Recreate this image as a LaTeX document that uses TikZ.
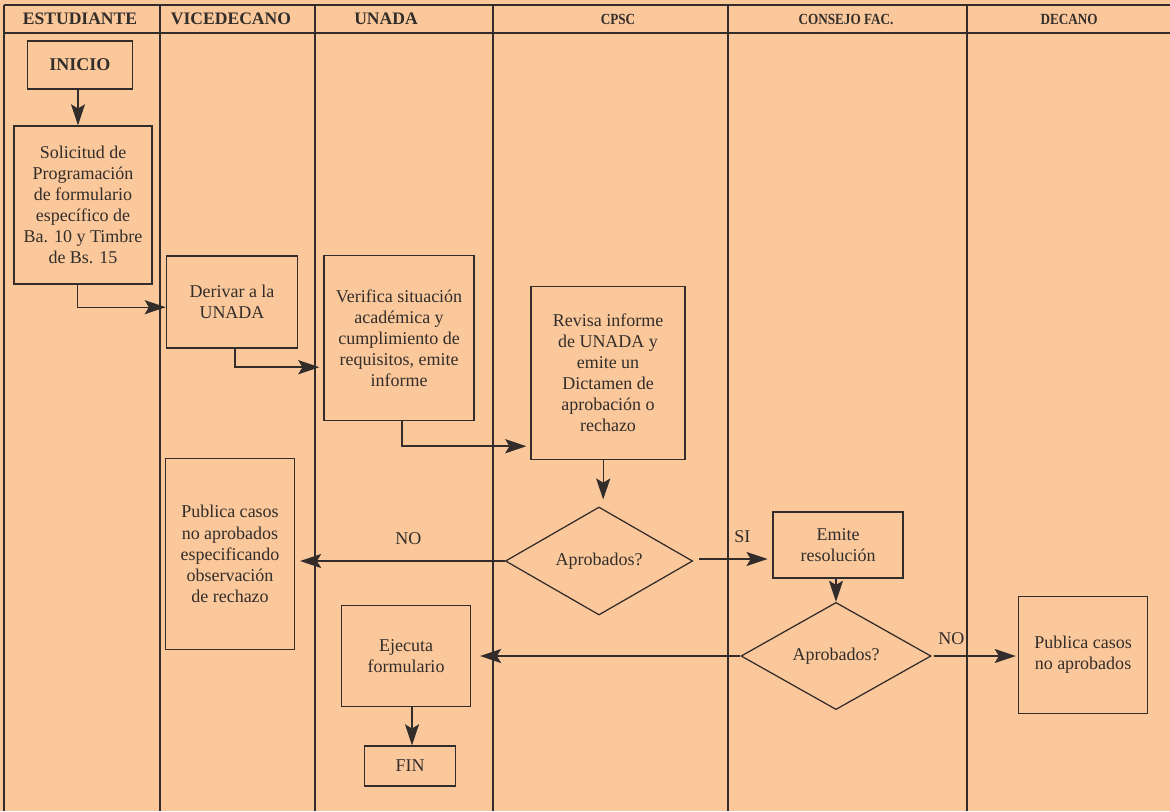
\documentclass[tikz,border=0pt]{standalone}
\usepackage{fontspec}
\setmainfont{Liberation Serif}
\usetikzlibrary{arrows.meta,shapes.geometric}

\definecolor{fondo}{RGB}{251,200,155}
\definecolor{linea}{RGB}{50,45,42}

\tikzset{
    caja/.style={draw=linea, line width=0.9pt, rectangle, align=center, inner sep=0pt, text=linea,
        font=\fontsize{12.8}{15}\selectfont},
    rombo/.style={caja, diamond, aspect=1.73},
    flecha/.style={draw=linea, line width=0.9pt, -{Stealth[length=15pt,width=10pt,inset=3pt]}},
    gruesa/.style={flecha, line width=1.8pt},
    titulo/.style={text=linea, font=\fontsize{12.5}{15}\selectfont\bfseries},
    titulob/.style={text=linea, font=\fontsize{11}{13}\selectfont\bfseries},
    etiqueta/.style={text=linea, font=\fontsize{12.8}{15}\selectfont}
}

\begin{document}
\begin{tikzpicture}[x=0.025cm,y=-0.025cm]
                % fondo y carriles
                \fill[fondo] (0,0) rectangle (1170,811);
                \useasboundingbox (0,0) rectangle (1170,811);
                \draw[linea, line width=0.9pt] (4,5) -- (1170,5);
                \draw[linea, line width=1.6pt] (4,33) -- (1170,33);
                \draw[linea, line width=2pt] (4,5) -- (4,811);
                \foreach \cx in {160,315,493,728,967}
                    \draw[linea, line width=0.9pt] (\cx,5) -- (\cx,811);

                % encabezados
                \node[titulo] (hEst) at (80,19) {ESTUDIANTE};
                \node[titulo] (hVic) at (231,19) {VICEDECANO};
                \node[titulo] (hUna) at (386,19) {UNADA};
                \node[titulob] (hCps) at (618,19) {\scalebox{0.85}[1]{CPSC}};
                \node[titulob] (hCon) at (846,19) {\scalebox{0.85}[1]{CONSEJO FAC.}};
                \node[titulob] (hDec) at (1069,19) {\scalebox{0.85}[1]{DECANO}};

                % cajas
                \node[caja, font=\fontsize{12.8}{15}\selectfont\bfseries, minimum width=2.63cm, minimum height=1.2cm] (inicio) at (80,65) {INICIO};
                \node[caja, minimum width=3.45cm, minimum height=3.95cm] (solicitud) at (83,205)
                    {Solicitud de\\Programación\\de formulario\\específico de\\Ba. 10 y Timbre\\de Bs. 15};
                \node[caja, minimum width=3.28cm, minimum height=2.3cm] (derivar) at (232,302) {Derivar a la\\UNADA};
                \node[caja, minimum width=3.75cm, minimum height=4.13cm] (verifica) at (399,338)
                    {Verifica situación\\académica y\\cumplimiento de\\requisitos, emite\\informe};
                \node[caja, minimum width=3.85cm, minimum height=4.33cm] (revisa) at (608,373)
                    {Revisa informe\\de UNADA y\\emite un\\Dictamen de\\aprobación o\\rechazo};
                \node[rombo, minimum width=4.68cm, minimum height=2.7cm] (aprob1) at (599,561) {Aprobados?};
                \node[caja, minimum width=3.25cm, minimum height=1.65cm] (emite) at (838,545) {Emite\\resolución};
                \node[rombo, minimum width=4.75cm, minimum height=2.68cm] (aprob2) at (836,656) {Aprobados?};
                \node[caja, minimum width=3.23cm, minimum height=2.93cm] (pubDec) at (1083,655) {Publica casos\\no aprobados};
                \node[caja, minimum width=3.23cm, minimum height=4.78cm] (pubVic) at (230,554)
                    {Publica casos\\no aprobados\\especificando\\observación\\de rechazo};
                \node[caja, minimum width=3.23cm, minimum height=2.53cm] (ejecuta) at (406,656) {Ejecuta\\formulario};
                \node[caja, minimum width=2.28cm, minimum height=1cm] (fin) at (410,766) {FIN};

                % conectores
                \draw[flecha] ([xshift=-0.05cm]inicio.south) -- ([xshift=-0.05cm]inicio.south |- solicitud.north);
                \draw[flecha] ([xshift=-0.13cm]solicitud.south) |- ([yshift=-0.13cm]derivar.west);
                \draw[gruesa] ([xshift=0.08cm]derivar.south) |- ([yshift=-0.73cm,xshift=-0.1cm]verifica.west);
                \draw[gruesa] ([xshift=0.08cm]verifica.south) |- ([yshift=-1.83cm,xshift=-0.1cm]revisa.west);
                \draw[flecha, shorten >=0.17cm] ([xshift=-0.12cm]revisa.south) -- ([xshift=-0.12cm]revisa.south |- aprob1.north);
                \draw[flecha, shorten >=0.12cm] (aprob1.west) -- node[etiqueta, above=8pt, pos=0.46] {NO} (aprob1.west -| pubVic.east);
                \draw[flecha, shorten <=0.15cm, shorten >=0.12cm] ([yshift=0.05cm]aprob1.east) -- node[etiqueta, above=8pt, pos=0.62] {SI} ([yshift=0.05cm]aprob1.east -| emite.west);
                \draw[flecha] ([xshift=-0.05cm]emite.south) -- ([xshift=-0.05cm]emite.south |- aprob2.north);
                \draw[flecha, shorten >=0.22cm] (aprob2.west) -- (aprob2.west -| ejecuta.east);
                \draw[flecha, shorten <=0.05cm, shorten >=0.05cm] (aprob2.east) -- node[etiqueta, above=4pt, pos=0.23] {NO} (aprob2.east -| pubDec.west);
                \draw[flecha] ([xshift=0.15cm]ejecuta.south) -- ([xshift=0.15cm]ejecuta.south |- fin.north);
            \end{tikzpicture}
\end{document}
